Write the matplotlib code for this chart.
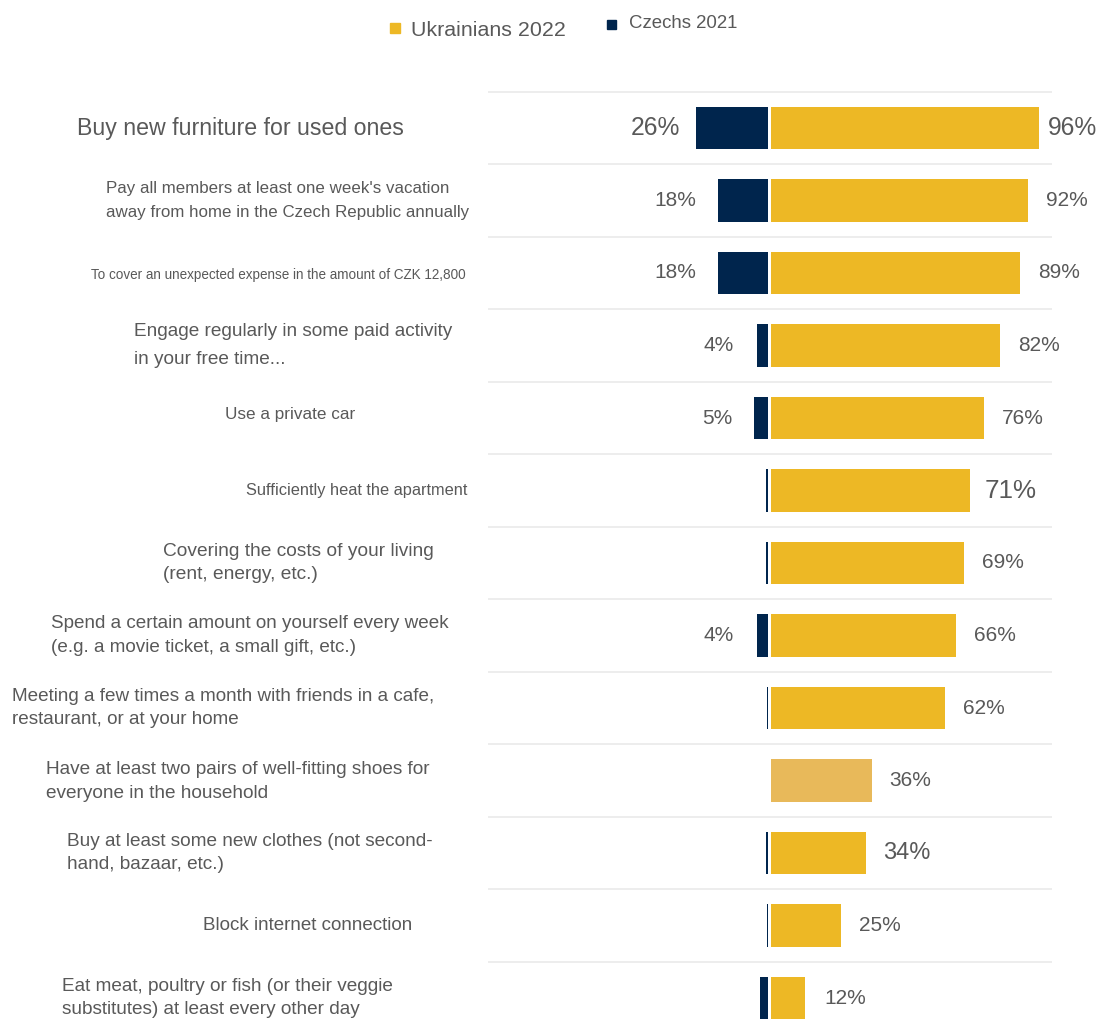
import matplotlib
matplotlib.use("Agg")
import matplotlib.pyplot as plt
from matplotlib.patches import Rectangle

plt.rcParams['font.family'] = ['Liberation Sans', 'DejaVu Sans']

# ---------------- data ----------------
categories = [
    "Buy new furniture for used ones",
    "Pay all members at least one week's vacation\naway from home in the Czech Republic annually",
    "To cover an unexpected expense in the amount of CZK 12,800",
    "Engage regularly in some paid activity\nin your free time...",
    "Use a private car",
    "Sufficiently heat the apartment",
    "Covering the costs of your living\n(rent, energy, etc.)",
    "Spend a certain amount on yourself every week\n(e.g. a movie ticket, a small gift, etc.)",
    "Meeting a few times a month with friends in a cafe,\nrestaurant, or at your home",
    "Have at least two pairs of well-fitting shoes for\neveryone in the household",
    "Buy at least some new clothes (not second-\nhand, bazaar, etc.)",
    "Block internet connection",
    "Eat meat, poultry or fish (or their veggie\nsubstitutes) at least every other day",
]
ukrainians_2022 = [96, 92, 89, 82, 76, 71, 69, 66, 62, 36, 34, 25, 12]
czechs_2021 = [26, 18, 18, 4, 5, 0.7, 0.7, 4, 0.3, 0, 0.7, 0.3, 3]
czech_labels = ["26%", "18%", "18%", "4%", "5%", "", "", "4%", "", "", "", "", ""]
series_names = ["Ukrainians 2022", "Czechs 2021"]

# ---------------- styles ----------------
W, H = 1096, 1025
GOLD = "#EDB825"
GOLD_LIGHT = "#E8B95A"
NAVY = "#00254D"
TEXT = "#595959"
LINE = "#ECECEC"

label_x_px = [77, 106, 91, 134, 225, 246, 163, 51, 12, 46, 67, 203, 62]
label_dy_px = [0, 0, 2, 0, -3, 0, 0, 0, 0, 1, 0, 0, 0]
label_size = [16.7, 12.2, 9.75, 13.7, 12.3, 11.8, 13.8, 13.6, 13.6, 13.7, 13.65, 13.5, 13.7]
label_linespacing = [1.4, 1.70, 1.4, 1.8, 1.4, 1.4, 1.50, 1.51, 1.45, 1.51, 1.45, 1.4, 1.51]
gold_val_size = [17.7, 15, 15, 15, 15, 18.7, 15, 15, 15, 15, 17, 15, 15]
gold_val_off = [8, 18, 18, 18, 18, 15, 18, 18, 18, 17, 17, 18, 19]
navy_val_size = [17.7, 15, 15, 15, 15, 15, 15, 15, 15, 15, 15, 15, 15]
navy_val_off = [15, 22, 22, 23, 22, 23, 23, 23, 23, 23, 23, 23, 23]

fig = plt.figure(figsize=(W / 100, H / 100), dpi=100)

# axes geometry in pixels
ax_left_px, ax_right_px = 487.5, 1051.5
ax_top_px, ax_bot_px = 80, 1025
row0_px, pitch_px = 128, 72.5
ax = fig.add_axes([ax_left_px / W, 1 - ax_bot_px / H,
                   (ax_right_px - ax_left_px) / W, (ax_bot_px - ax_top_px) / H])
ax.set_xlim(-101, 101)
ax.set_ylim((ax_bot_px - row0_px) / pitch_px, (ax_top_px - row0_px) / pitch_px)
ax.axis("off")

n = len(categories)
ys = list(range(n))
bar_h = 0.58
gap_gold, gap_navy = 0.7, 0.5

for i in range(n):
    ax.axhline(i - 0.5, color=LINE, lw=1.3, zorder=0)

gold_colors = [GOLD_LIGHT if c.startswith("Have at least two pairs") else GOLD for c in categories]
ax.barh(ys, ukrainians_2022, left=gap_gold, height=bar_h, color=gold_colors, zorder=2)
ax.barh(ys, [-v for v in czechs_2021], left=-gap_navy, height=bar_h, color=NAVY, zorder=2)

for i in range(n):
    ax.annotate(f"{ukrainians_2022[i]}%", (gap_gold + ukrainians_2022[i], i),
                xytext=(gold_val_off[i], 0), textcoords="offset pixels",
                ha="left", va="center", fontsize=gold_val_size[i], color=TEXT)
    if czech_labels[i]:
        ax.annotate(czech_labels[i], (-gap_navy - czechs_2021[i], i),
                    xytext=(-navy_val_off[i], 0), textcoords="offset pixels",
                    ha="right", va="center", fontsize=navy_val_size[i], color=TEXT)

# category labels
for i, cat in enumerate(categories):
    yc = row0_px + pitch_px * i + label_dy_px[i]
    fig.text(label_x_px[i] / W, 1 - yc / H, cat, ha="left", va="center",
             multialignment="left", fontsize=label_size[i], color=TEXT,
             linespacing=label_linespacing[i])

# legend
fig.patches.append(Rectangle((390 / W, 1 - 33 / H), 10 / W, 10 / H,
                             transform=fig.transFigure, color=GOLD, figure=fig))
fig.text(411 / W, 1 - 30 / H, series_names[0], ha="left", va="center",
         fontsize=15.4, color=TEXT)
fig.patches.append(Rectangle((607 / W, 1 - 29 / H), 9 / W, 9 / H,
                             transform=fig.transFigure, color=NAVY, figure=fig))
fig.text(629 / W, 1 - 23 / H, series_names[1], ha="left", va="center",
         fontsize=13.4, color=TEXT)

fig.savefig("out.png", dpi=100, facecolor="white")
